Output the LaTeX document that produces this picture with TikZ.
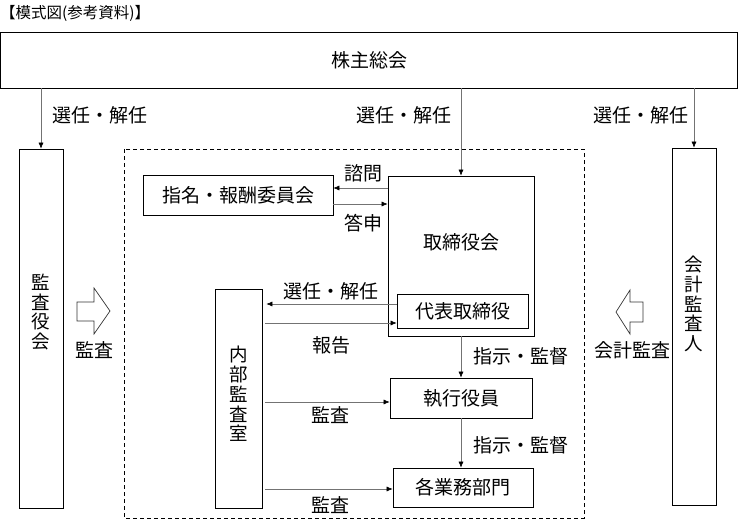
\documentclass[tikz,border=0pt]{standalone}
\usepackage{fontspec}
\setmainfont{Noto Sans CJK JP}
\usetikzlibrary{arrows.meta}
\begin{document}
\begin{tikzpicture}[x=1pt, y=-1pt,
    box/.style={draw=black, line width=0.7pt, inner sep=0pt, font=\fontsize{19}{20}\selectfont},
    lbl/.style={inner sep=0pt, font=\fontsize{19}{20}\selectfont},
    vlbl/.style={inner sep=0pt, align=center, font=\fontsize{18.5}{19.8}\selectfont},
    conn/.style={draw=black!55, line width=0.6pt, -{Latex[length=6pt,width=5pt,color=black]}},
    blockarrow/.style={draw=black!80, line width=0.7pt}]
    \useasboundingbox (0,0) rectangle (740,525);
    \node[anchor=west, inner sep=0pt, font=\fontsize{15.5}{16}\selectfont] (title) at (0,13) {【模式図(参考資料)】};
    %
    \node[box, minimum width=737pt, minimum height=56pt] (soukai) at (369,60) {株主総会};
    \node[box, minimum width=44pt, minimum height=359pt] (kansayaku) at (41,328.5) {};
    \node[vlbl] (kansayakulbl) at (41,312) {監\\査\\役\\会};
    \node[box, minimum width=44pt, minimum height=357pt] (kaikei) at (694,326.5) {};
    \node[vlbl] (kaikeilbl) at (694,304) {会\\計\\監\\査\\人};
    %
    \draw[dash pattern=on 4pt off 3pt, line width=0.7pt] (124,149) rectangle (584,518);
    %
    \node[box, minimum width=190pt, minimum height=40pt] (shimei) at (238,195) {指名・報酬委員会};
    \node[box, minimum width=146pt, minimum height=160pt] (torishimari) at (461,256) {};
    \node[lbl] (torishimarilbl) at (461,242) {取締役会};
    \node[box, minimum width=131pt, minimum height=34pt] (daihyo) at (462.5,311) {代表取締役};
    \node[box, minimum width=47pt, minimum height=219pt] (naibu) at (238.5,398.5) {};
    \node[vlbl] (naibulbl) at (238.5,394) {内\\部\\監\\査\\室};
    \node[box, minimum width=142pt, minimum height=40pt] (shikko) at (461,398) {執行役員};
    \node[box, minimum width=140pt, minimum height=39pt] (kakubumon) at (463,487.5) {各業務部門};
    %
    \draw[conn] (soukai.south -| kansayaku.north) -- (kansayaku.north);
    \draw[conn] (soukai.south -| torishimari.north) -- (torishimari.north);
    \draw[conn] (soukai.south -| kaikei.north) -- (kaikei.north);
    \node[lbl] (sennin1) at (100,115) {選任・解任};
    \node[lbl] (sennin2) at (404,115) {選任・解任};
    \node[lbl] (sennin3) at (641,115) {選任・解任};
    %
    \draw[conn] (torishimari.west |- 0,188) -- (shimei.east |- 0,188);
    \draw[conn] (shimei.east |- 0,204) -- (torishimari.west |- 0,204);
    \node[lbl] (shimon) at (363,173) {諮問};
    \node[lbl] (toushin) at (363,223) {答申};
    %
    \draw[conn, shorten >=4pt] (daihyo.west |- 0,304) -- (naibu.east |- 0,304);
    \draw[conn, shorten <=3pt] (naibu.east |- 0,323) -- (daihyo.west |- 0,323);
    \node[lbl] (sennin4) at (331,291) {選任・解任};
    \node[lbl] (houkoku) at (331,345) {報告};
    %
    \draw[conn] (torishimari.south) -- (torishimari.south |- shikko.north);
    \draw[conn] (shikko.south) -- (shikko.south |- kakubumon.north);
    \node[lbl] (shiji1) at (521,356) {指示・監督};
    \node[lbl] (shiji2) at (521,445) {指示・監督};
    %
    \draw[conn, shorten <=3pt] (naibu.east |- 0,402) -- (shikko.west |- 0,402);
    \draw[conn, shorten <=3pt] (naibu.east |- 0,489) -- (kakubumon.west |- 0,489);
    \node[lbl] (kansa1) at (330,415) {監査};
    \node[lbl] (kansa2) at (330,505) {監査};
    %
    \draw[blockarrow] (77,302) -- (94,302) -- (94,288) -- (110,311) -- (94,334) -- (94,321) -- (77,321) -- cycle;
    \draw[blockarrow] (643,302) -- (630,302) -- (630,290) -- (616,312) -- (630,334) -- (630,322) -- (643,322) -- cycle;
    \node[lbl] (kansa3) at (94,350) {監査};
    \node[lbl] (kaikeikansa) at (632,350) {会計監査};
\end{tikzpicture}
\end{document}
